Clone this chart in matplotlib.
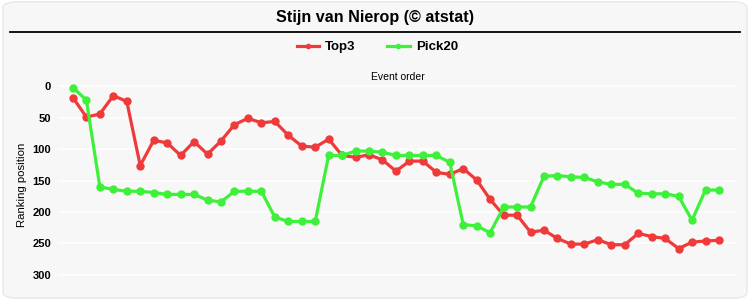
import matplotlib
matplotlib.use("Agg")
import matplotlib.pyplot as plt
from matplotlib.patches import FancyBboxPatch
from matplotlib.lines import Line2D

plt.rcParams["font.family"] = ["Liberation Sans", "DejaVu Sans"]

title = "Stijn van Nierop (\u00a9 atstat)"
series_names = ["Top3", "Pick20"]
series_colors = ["#f03a3a", "#3ef03a"]

top3 = [18, 49, 44, 15, 24, 126, 86, 90, 110, 88, 108, 87, 61, 51, 58, 56, 78,
        95, 97, 84, 110, 113, 109, 117, 135, 119, 119, 137, 140, 131, 149, 180,
        205, 205, 232, 229, 242, 251, 251, 244, 252, 252, 234, 239, 242, 258,
        248, 246, 245]
pick20 = [2, 22, 160, 164, 167, 167, 169, 172, 172, 172, 181, 184, 167, 167, 167,
          208, 215, 215, 215, 110, 110, 103, 103, 105, 110, 110, 110, 110, 121,
          220, 222, 233, 192, 192, 192, 143, 142, 144, 145, 152, 156, 156, 170,
          171, 171, 175, 213, 165, 165]
events = list(range(1, len(top3) + 1))
yticks = [0, 50, 100, 150, 200, 250, 300]

fig = plt.figure(figsize=(7.5, 3.0), dpi=100)
fig.patch.set_facecolor("white")
bg = FancyBboxPatch((0.004, 0.006), 0.992, 0.988, boxstyle="round,pad=0,rounding_size=0.02",
                    transform=fig.transFigure, facecolor="#f7f7f7",
                    edgecolor="#e8e8e8", linewidth=1, zorder=-10)
fig.patches.append(bg)

fig.text(0.5, 0.943, title, ha="center", va="center", fontsize=11.6, fontweight="bold")
fig.add_artist(Line2D([10 / 750, 740 / 750], [1 - 31.5 / 300] * 2,
                      transform=fig.transFigure, color="black", linewidth=1.3))

ax = fig.add_axes([58 / 750, 10 / 300, 679 / 750, 210 / 300])
ax.set_facecolor("#f7f7f7")
for vals, name, col in zip([top3, pick20], series_names, series_colors):
    ax.plot(events, vals, color=col, linewidth=2.3, marker="o", markersize=5,
            label=name)

ax.set_ylim(324, -10)
ax.set_xlim(-0.11, 50.34)
ax.set_yticks(yticks)
ax.set_yticklabels([str(t) for t in yticks], fontweight="bold", fontsize=8)
ax.set_xticks([])
ax.tick_params(axis="y", length=0, pad=5)
ax.grid(axis="y", color="white", linewidth=1.2)
ax.set_axisbelow(True)
for s in ax.spines.values():
    s.set_visible(False)

ax.xaxis.set_label_position("top")
ax.set_xlabel("Event order", fontsize=7.5, labelpad=0)
ax.set_ylabel("Ranking position", fontsize=8.2, labelpad=4)

handles, labels = ax.get_legend_handles_labels()
fig.legend(handles, labels, loc="center", bbox_to_anchor=(0.503, 1 - 47 / 300),
           ncol=2, frameon=False, prop={"weight": "bold", "size": 9.5},
           handlelength=1.7, handletextpad=0.45, columnspacing=2.4, markerscale=0.6)

fig.savefig("out.png", dpi=100, facecolor=fig.get_facecolor())
